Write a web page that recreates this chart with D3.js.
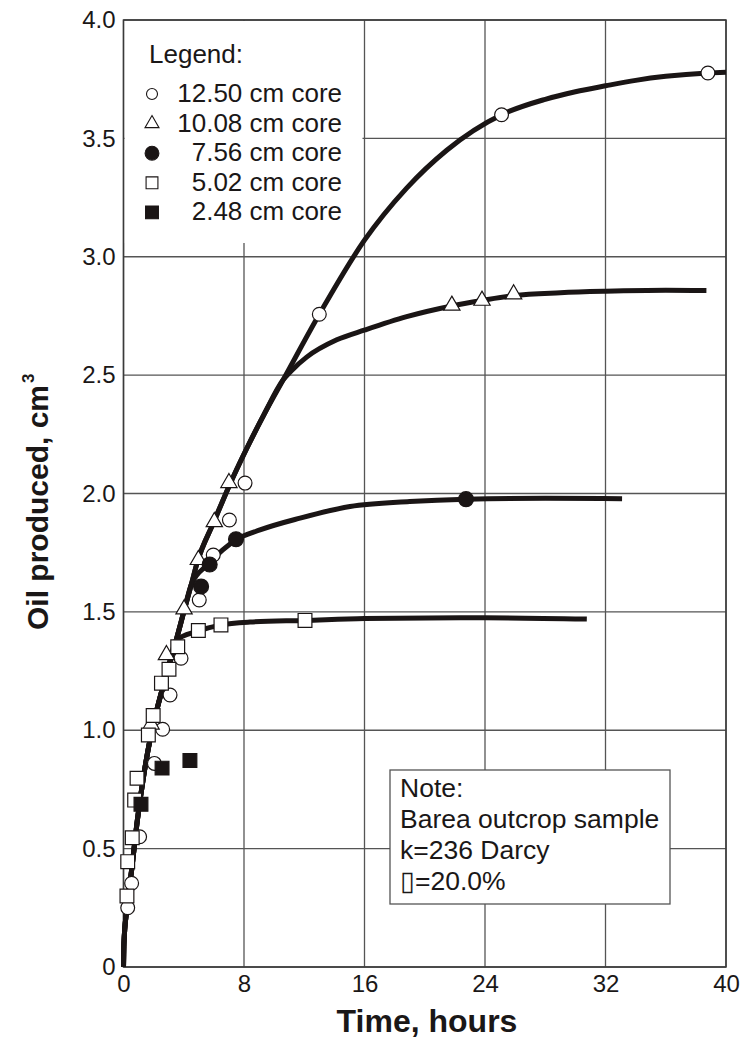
<!DOCTYPE html>
<html>
<head>
<meta charset="utf-8">
<script src="https://cdn.jsdelivr.net/npm/d3@7"></script>
<style>
  body { margin: 0; background: #fff; }
  text { font-family: "Liberation Sans", Arial, sans-serif; fill: #1a1717; }
</style>
</head>
<body>
<div id="div1"></div>
<script>

// axis ticks
let xTicks = [0, 8, 16, 24, 32, 40]
let yTicks = [0, 0.5, 1.0, 1.5, 2.0, 2.5, 3.0, 3.5, 4.0]

// measured points [time (h), oil (cm3)]
let core1250 = [[0.28,0.25],[0.54,0.354],[1.07,0.55],[2.05,0.86],[2.6,1.004],[3.09,1.149],[3.82,1.304],
                [5.03,1.55],[5.96,1.74],[7.03,1.888],[8.07,2.044],[13.0,2.757],[25.1,3.60],[38.8,3.776]]
let core1008 = [[1.83,1.025],[2.85,1.318],[4.02,1.511],[4.97,1.72],[6.03,1.88],[7.0,2.045],
                [21.8,2.794],[23.8,2.815],[25.9,2.842]]
let core756  = [[5.15,1.607],[5.72,1.70],[7.47,1.807],[22.74,1.976]]
let core502  = [[0.23,0.30],[0.28,0.445],[0.58,0.546],[0.74,0.705],[0.9,0.797],[1.65,0.98],[1.97,1.062],
                [2.52,1.199],[3.02,1.258],[3.6,1.353],[4.97,1.421],[6.47,1.445],[12.05,1.464]]
let core248  = [[1.16,0.687],[2.56,0.84],[4.41,0.872]]

// fitted curves
let trunkStart = [[0,0],[0.03,0.10],[0.21,0.24],[0.54,0.41],[0.92,0.62],[1.32,0.80],[1.76,0.96],
                  [2.31,1.11],[2.87,1.24],[3.5,1.38]]
let trunkMid   = [[4.0,1.50],[4.5,1.615]]
let trunkTop   = [[4.9,1.71],[6.0,1.88],[7.0,2.03],[8.18,2.19],[9.3,2.33],[10.6,2.48]]
let tail1250 = [[13.0,2.757],[16.0,3.07],[18.8,3.29],[21.46,3.45],[25.1,3.60],[28,3.665],[30,3.697],
                [32,3.722],[34,3.745],[36,3.762],[38.77,3.776],[40,3.779]]
let tail1008 = [[11.2,2.522],[12.16,2.576],[14.16,2.649],[16.04,2.691],[18.8,2.747],[21.8,2.792],
                [23.8,2.815],[25.9,2.836],[29,2.848],[32,2.854],[36,2.858],[38.7,2.857]]
let tail756  = [[5.6,1.70],[7.5,1.805],[9.06,1.846],[11.72,1.896],[15.04,1.945],[19,1.966],
                [22.74,1.976],[28,1.98],[33.1,1.978]]
let tail502  = [[4.86,1.417],[6.41,1.444],[8.4,1.457],[12.05,1.464],[16,1.472],[24,1.475],[30.76,1.47]]

let legendLabels = ["12.50 cm core", "10.08 cm core", "7.56 cm core", "5.02 cm core", "2.48 cm core"]
let noteLines = ["Note:", "Barea outcrop sample", "k=236 Darcy", "\u25AF=20.0%"]

let svg = d3.select("#div1").append("svg")
svg.attr("width", 744)
svg.attr("height", 1041)

let xScale = d3.scaleLinear().domain([0, 40]).range([123.5, 726])
let yScale = d3.scaleLinear().domain([0, 4]).range([967, 20])

// grid
svg.append("g").selectAll("line")
   .data(xTicks)
   .enter().append("line")
   .attr("x1", d => xScale(d)).attr("x2", d => xScale(d))
   .attr("y1", yScale(0)).attr("y2", yScale(4))
   .style("stroke", "#555").style("stroke-width", 1.3)

svg.append("g").selectAll("line")
   .data(yTicks)
   .enter().append("line")
   .attr("x1", xScale(0)).attr("x2", xScale(40))
   .attr("y1", d => yScale(d)).attr("y2", d => yScale(d))
   .style("stroke", "#555").style("stroke-width", 1.3)

// white patch behind legend and the note box cover the grid
svg.append("rect")
   .attr("x", xScale(0) + 1).attr("y", yScale(4) + 1)
   .attr("width", 238).attr("height", 222)
   .style("fill", "#fff")

svg.append("rect")
   .attr("x", 390).attr("y", 770)
   .attr("width", 280).attr("height", 134)
   .style("fill", "#fff").style("stroke", "#555").style("stroke-width", 1.3)

svg.append("g").selectAll("text")
   .data(noteLines)
   .enter().append("text")
   .attr("x", 400)
   .attr("y", (d, i) => 797 + i * 31)
   .style("font-size", "26.5px")
   .text(d => d)

// frame
svg.append("rect")
   .attr("x", xScale(0)).attr("y", yScale(4))
   .attr("width", xScale(40) - xScale(0)).attr("height", yScale(0) - yScale(4))
   .style("fill", "none").style("stroke", "#3a3a3a").style("stroke-width", 1.5)

// axes
let xAxis = d3.axisBottom(xScale).tickValues(xTicks).tickSize(0).tickPadding(8)
let yAxis = d3.axisLeft(yScale).tickValues(yTicks).tickSize(0).tickPadding(8)
               .tickFormat(d => d === 0 ? "0" : d3.format(".1f")(d))

let gx = svg.append("g").attr("transform", "translate(0," + yScale(0) + ")").call(xAxis)
let gy = svg.append("g").attr("transform", "translate(" + xScale(0) + ",0)").call(yAxis)
gx.select(".domain").remove()
gy.select(".domain").remove()
svg.selectAll(".tick text")
   .style("font-size", "24px")
   .style("font-family", "'Liberation Sans', Arial, sans-serif")
   .style("fill", "#1a1717")

// axis titles
svg.append("text")
   .attr("x", 427).attr("y", 1032)
   .attr("text-anchor", "middle")
   .style("font-size", "32px").style("font-weight", "bold")
   .text("Time, hours")

let yTitle = svg.append("text")
   .attr("transform", "translate(48,630) rotate(-90)")
   .style("font-size", "30px").style("font-weight", "bold")
yTitle.append("tspan").text("Oil produced, cm")
yTitle.append("tspan").attr("dy", -14).attr("dx", 2).style("font-size", "17px").text("3")

// curves
let line = d3.line()
   .x(d => xScale(d[0]))
   .y(d => yScale(d[1]))
   .curve(d3.curveMonotoneX)

let curves = [
  trunkStart.concat(trunkMid, trunkTop, tail1250),
  trunkStart.concat(trunkMid, trunkTop, tail1008),
  trunkStart.concat(trunkMid, tail756),
  trunkStart.concat(tail502)
]

svg.append("g").selectAll("path")
   .data(curves)
   .enter().append("path")
   .attr("d", line)
   .style("fill", "none")
   .style("stroke", "#1a1515")
   .style("stroke-width", 5)
   .style("stroke-linejoin", "round")

// markers
let series = [
  {pts: core1250, type: d3.symbolCircle,   size: 150, fill: "#fff"},
  {pts: core1008, type: d3.symbolTriangle, size: 115, fill: "#fff"},
  {pts: core756,  type: d3.symbolCircle,   size: 175, fill: "#1a1515"},
  {pts: core502,  type: d3.symbolSquare,   size: 190, fill: "#fff"},
  {pts: core248,  type: d3.symbolSquare,   size: 190, fill: "#1a1515"}
]
let legendSizes = [95, 85, 150, 140, 165]

series.forEach(function(s) {
  svg.append("g").selectAll("path")
     .data(s.pts)
     .enter().append("path")
     .attr("transform", d => "translate(" + xScale(d[0]) + "," + yScale(d[1]) + ")")
     .attr("d", d3.symbol().type(s.type).size(s.size))
     .style("fill", s.fill)
     .style("stroke", "#1a1515")
     .style("stroke-width", 1.2)
})

// legend
svg.append("text")
   .attr("x", 149).attr("y", 63)
   .style("font-size", "26px")
   .text("Legend:")

let leg = svg.append("g").selectAll("g")
   .data(legendLabels)
   .enter().append("g")
   .attr("transform", (d, i) => "translate(0," + (102 + i * 29.6) + ")")

leg.append("path")
   .attr("transform", "translate(152,-8)")
   .attr("d", (d, i) => d3.symbol().type(series[i].type).size(legendSizes[i])())
   .style("fill", (d, i) => series[i].fill)
   .style("stroke", "#1a1515")
   .style("stroke-width", 1.1)

leg.append("text")
   .attr("x", 342)
   .attr("text-anchor", "end")
   .style("font-size", "26px")
   .text(d => d)

</script>
</body>
</html>
